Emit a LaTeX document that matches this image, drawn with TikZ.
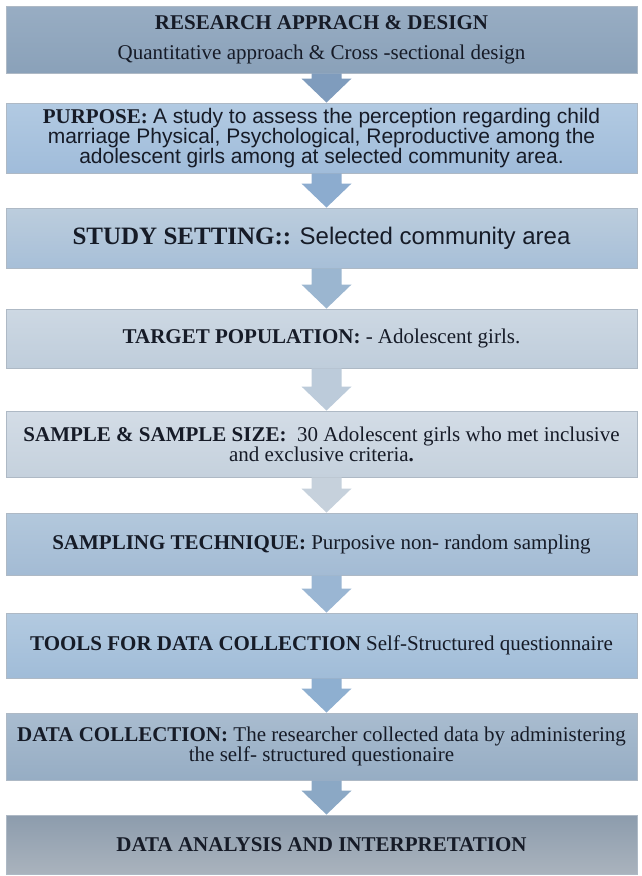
\documentclass[tikz,border=0pt]{standalone}
\usepackage{fontspec}
\setmainfont{Liberation Serif}
\newfontfamily\sansf{Liberation Sans}
\usetikzlibrary{calc}
\definecolor{txt}{HTML}{161B27}
\definecolor{edge}{HTML}{AEB9C5}
\definecolor{b1t}{HTML}{98ADC3}\definecolor{b1b}{HTML}{8AA1B9}
\definecolor{b2t}{HTML}{B2CAE2}\definecolor{b2b}{HTML}{A0BCDA}
\definecolor{b3t}{HTML}{BCCDDD}\definecolor{b3b}{HTML}{A7BFD8}
\definecolor{b4t}{HTML}{CDD8E3}\definecolor{b4b}{HTML}{BFCDDB}
\definecolor{b5t}{HTML}{D3DCE6}\definecolor{b5b}{HTML}{C5D1DD}
\definecolor{b6t}{HTML}{B3C8DC}\definecolor{b6b}{HTML}{A3BBD4}
\definecolor{b7t}{HTML}{B3CAE0}\definecolor{b7b}{HTML}{A0BCD8}
\definecolor{b8t}{HTML}{A9BCCF}\definecolor{b8b}{HTML}{96ADC4}
\definecolor{b9t}{HTML}{8C9CAD}\definecolor{b9b}{HTML}{AAB3BD}
\definecolor{a1}{HTML}{7F9CBD}
\definecolor{a2}{HTML}{8CACCF}
\definecolor{a3}{HTML}{9BB6D0}
\definecolor{a4}{HTML}{BCCBDA}
\definecolor{a5}{HTML}{C6D1DC}
\definecolor{a6}{HTML}{9AB6D3}
\definecolor{a7}{HTML}{8EAFD0}
\definecolor{a8}{HTML}{8BA8C5}
\tikzset{
  flowbox/.style 2 args={rectangle, minimum width=631pt, inner sep=0pt,
    top color=#1, bottom color=#2, draw=edge, line width=0.9pt,
    align=center, text=txt, font=\fontsize{21}{20}\selectfont},
}
\newcommand\blockarrow[3]{%
  \fill[#3] let \p1=($(#1.south)+(5,0)$), \p2=(#2.north) in
    (\x1-15pt,\y1) -- (\x1+15pt,\y1) -- (\x1+15pt,\y2+24pt) --
    (\x1+25pt,\y2+24pt) -- (\x1,\y2) -- (\x1-25pt,\y2+24pt) --
    (\x1-15pt,\y2+24pt) -- cycle;}
\begin{document}
\begin{tikzpicture}[x=1pt,y=-1pt]
\fill[white] (0,0) rectangle (641,876);
\useasboundingbox (0,0) rectangle (641,876);

\node[flowbox={b1t}{b1b}, minimum height=67pt, font=\fontsize{21}{30}\selectfont] (b1) at (321.5,39.5)
  {{\bfseries RESEARCH APPRACH \& DESIGN}\\Quantitative approach \& Cross -sectional design};
\node[flowbox={b2t}{b2b}, minimum height=70pt] (b2) at (321.5,138)
  {{\bfseries PURPOSE:} {\sansf A study to assess the perception regarding child}\\
   {\sansf marriage Physical, Psychological, Reproductive among the}\\
   {\sansf adolescent girls among at selected community area.}};
\node[flowbox={b3t}{b3b}, minimum height=60pt, font=\fontsize{25}{30}\selectfont] (b3) at (321.5,238)
  {{\bfseries STUDY SETTING::} {\sansf\fontsize{24}{30}\selectfont Selected community area}};
\node[flowbox={b4t}{b4b}, minimum height=59pt] (b4) at (321.5,338.5)
  {{\bfseries TARGET POPULATION:} - Adolescent girls.};
\node[flowbox={b5t}{b5b}, minimum height=66pt] (b5) at (321.5,444)
  {{\bfseries SAMPLE \& SAMPLE SIZE:}\ \ 30 Adolescent girls who met inclusive\\
   and exclusive criteria{\bfseries .}};
\node[flowbox={b6t}{b6b}, minimum height=62pt] (b6) at (321.5,544)
  {{\bfseries SAMPLING TECHNIQUE:} Purposive non- random sampling};
\node[flowbox={b7t}{b7b}, minimum height=65pt] (b7) at (321.5,645.5)
  {{\bfseries TOOLS FOR DATA COLLECTION} Self-Structured questionnaire};
\node[flowbox={b8t}{b8b}, minimum height=67pt] (b8) at (321.5,746.5)
  {{\bfseries DATA COLLECTION:} The researcher collected data by administering\\
   the self- structured questionaire};
\node[flowbox={b9t}{b9b}, minimum height=59pt] (b9) at (321.5,844.5)
  {{\bfseries DATA ANALYSIS AND INTERPRETATION}};

\blockarrow{b1}{b2}{a1}
\blockarrow{b2}{b3}{a2}
\blockarrow{b3}{b4}{a3}
\blockarrow{b4}{b5}{a4}
\blockarrow{b5}{b6}{a5}
\blockarrow{b6}{b7}{a6}
\blockarrow{b7}{b8}{a7}
\blockarrow{b8}{b9}{a8}
\end{tikzpicture}
\end{document}
